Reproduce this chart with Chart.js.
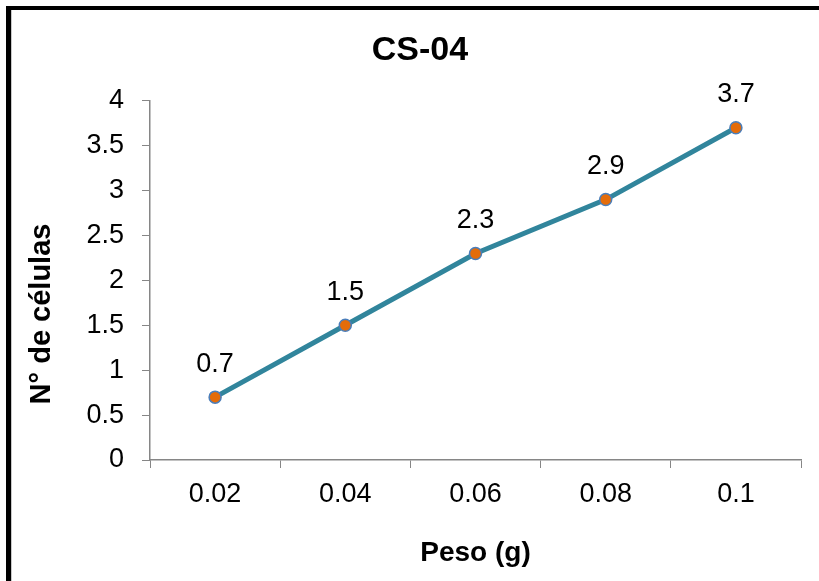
<!DOCTYPE html>
<html>
<head>
<meta charset="utf-8">
<script src="https://cdn.jsdelivr.net/npm/chart.js@4/dist/chart.umd.min.js"></script>
<style>
    html, body { margin: 0; padding: 0; background: #fff; }
    #wrap { position: relative; width: 819px; height: 581px; }
</style>
</head>
<body>
<div id="wrap"><canvas id="cellChart" width="819" height="581"></canvas></div>
<script>
// Chart data
const pesos = ['0.02', '0.04', '0.06', '0.08', '0.1'];
const celulas = [0.7, 1.5, 2.3, 2.9, 3.7];
const yTitle = 'N° de células';

const axisGray = '#868686';
const fontFamily = '"Liberation Sans", Arial, sans-serif';

// Frame drawn round the picture (black on top and left)
const framePlugin = {
    id: 'frame',
    afterLayout(chart) {
        // centre the title a bit to the right, as in the original
        chart.titleBlock.left = 39;
        chart.titleBlock.right = 801;
    },
    beforeDraw(chart) {
        const ctx = chart.ctx;
        ctx.save();
        ctx.fillStyle = '#fff';
        ctx.fillRect(0, 0, chart.width, chart.height);
        ctx.fillStyle = '#000';
        ctx.fillRect(6, 6, 5, chart.height - 6);
        ctx.fillRect(6, 6, chart.width - 6, 4);
        ctx.fillStyle = '#c8c8c8';
        ctx.fillRect(11, 10, 1, chart.height - 10);
        ctx.restore();
    },
    afterDraw(chart) {
        // y axis title, sits lower than the plot middle
        const ctx = chart.ctx;
        ctx.save();
        ctx.translate(42, 314);
        ctx.rotate(-Math.PI / 2);
        ctx.font = 'bold 29px ' + fontFamily;
        ctx.fillStyle = '#000';
        ctx.textAlign = 'center';
        ctx.textBaseline = 'middle';
        ctx.fillText(yTitle, 0, 0);
        ctx.restore();
    }
};

// Value labels above each point
const valueLabels = {
    id: 'valueLabels',
    afterDatasetsDraw(chart) {
        const ctx = chart.ctx;
        const meta = chart.getDatasetMeta(0);
        ctx.save();
        ctx.font = '27px ' + fontFamily;
        ctx.fillStyle = '#000';
        ctx.textAlign = 'center';
        ctx.textBaseline = 'middle';
        meta.data.forEach((pt, i) => {
            ctx.fillText(String(chart.data.datasets[0].data[i]), pt.x, pt.y - 33);
        });
        ctx.restore();
    }
};

const ctx = document.getElementById('cellChart').getContext('2d');
new Chart(ctx, {
    type: 'line',
    data: {
        labels: pesos,
        datasets: [{
            data: celulas,
            borderColor: '#31859C',
            borderWidth: 5,
            tension: 0,
            pointRadius: 6,
            pointBackgroundColor: '#E46C0A',
            pointBorderColor: '#4A7EBB',
            pointBorderWidth: 1.5
        }]
    },
    options: {
        responsive: false,
        animation: false,
        layout: { padding: { left: 0, right: 18, top: 0, bottom: 0 } },
        plugins: {
            legend: { display: false },
            tooltip: { enabled: false },
            title: {
                display: true,
                text: 'CS-04',
                color: '#000',
                font: { family: fontFamily, size: 34, weight: 'bold', lineHeight: 1.2 },
                padding: { top: 30, bottom: 30 }
            }
        },
        scales: {
            x: {
                type: 'category',
                offset: true,
                afterFit: s => { s.height = 121; },
                grid: {
                    offset: true,
                    drawOnChartArea: false,
                    drawTicks: true,
                    tickLength: 8,
                    color: axisGray
                },
                border: { display: true, color: axisGray, width: 1.5 },
                ticks: {
                    color: '#000',
                    padding: 10,
                    font: { family: fontFamily, size: 27 }
                },
                title: {
                    display: true,
                    text: 'Peso (g)',
                    color: '#000',
                    font: { family: fontFamily, size: 28, weight: 'bold' },
                    padding: { top: 0, bottom: 11 }
                }
            },
            y: {
                min: 0,
                max: 4,
                afterFit: s => { s.width = 150; },
                grid: {
                    drawOnChartArea: false,
                    drawTicks: true,
                    tickLength: 8,
                    color: axisGray
                },
                border: { display: true, color: axisGray, width: 1.5 },
                ticks: {
                    stepSize: 0.5,
                    color: '#000',
                    padding: 18,
                    font: { family: fontFamily, size: 27 },
                    callback: v => String(v)
                }
            }
        }
    },
    plugins: [framePlugin, valueLabels]
});
</script>
</body>
</html>
